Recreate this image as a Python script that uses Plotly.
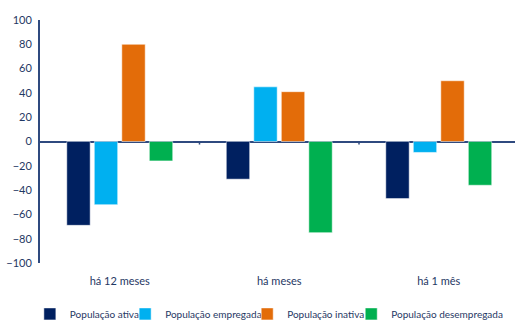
import plotly.graph_objects as go

categories = ["há 12 meses", "há meses", "há 1 mês"]
series_names = ["População ativa", "População empregada", "População inativa", "População desempregada"]
ativa = [-69, -31, -47]
empregada = [-52, 45, -9]
inativa = [80, 41, 50]
desempregada = [-16, -75, -36]
colors = ["#002060", "#00B0F0", "#E36C09", "#00B050"]
y_ticks = [-100, -80, -60, -40, -20, 0, 20, 40, 60, 80, 100]

legend_ids = ["legend", "legend2", "legend3", "legend4"]
legend_x = [0.058, 0.243, 0.480, 0.682]

fig = go.Figure()
for name, vals, col, lg in zip(series_names, [ativa, empregada, inativa, desempregada], colors, legend_ids):
    fig.add_trace(go.Bar(x=categories, y=vals, name=name, legend=lg,
                         marker=dict(color=col, line=dict(color="rgba(255,255,255,0.5)", width=1))))

axis_col = "#2F4A7F"
font_col = "#1F3864"
for b in [0.5, 1.5]:
    fig.add_shape(type="line", xref="x", yref="y", x0=b, x1=b, y0=0, y1=-2.5,
                  line=dict(color=axis_col, width=1.5))

legend_layout = {}
for lg, lx in zip(legend_ids, legend_x):
    legend_layout[lg] = dict(orientation="h", xref="container", x=lx, xanchor="left",
                             yref="container", y=0.019, yanchor="middle",
                             font=dict(size=10, color=font_col), itemwidth=30,
                             bgcolor="rgba(0,0,0,0)")

fig.update_layout(
    width=515, height=320,
    margin=dict(l=40, r=0, t=20, b=57, autoexpand=False),
    plot_bgcolor="white", paper_bgcolor="white",
    barmode="group", bargap=0.31, bargroupgap=0.15,
    font=dict(family="Lato, Open Sans, sans-serif", size=11, color=font_col),
    showlegend=True,
    xaxis=dict(type="category", range=[-0.5, 2.478], showline=False, showgrid=False,
               ticks="", tickfont=dict(size=11, color=font_col), ticklabelstandoff=10),
    yaxis=dict(range=[-100, 100], tickvals=y_ticks, showgrid=False, zeroline=True,
               zerolinecolor=axis_col, zerolinewidth=2, showline=True, linecolor=axis_col,
               linewidth=2, ticks="", tickfont=dict(size=11, color=font_col), ticklabelstandoff=4),
    **legend_layout,
)
fig.write_html("out.html")
